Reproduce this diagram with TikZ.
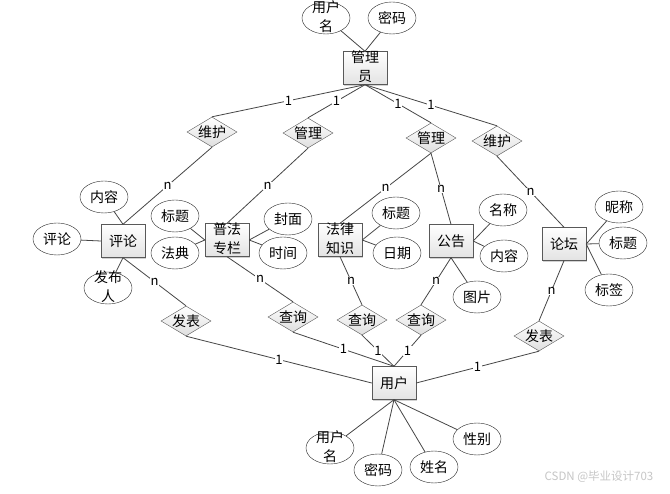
\documentclass[tikz,border=0pt]{standalone}
\usepackage{fontspec}
\setmainfont{Noto Sans CJK SC}
\usepackage{tikz}
\usetikzlibrary{shapes.geometric, shadows}
\newcommand{\twoline}[2]{\smash{\raisebox{-3.8pt}{\begin{tabular}{@{}c@{}}#1\\#2\end{tabular}}}}
\tikzstyle{entity} = [rectangle, minimum width=44pt, minimum height=33pt, inner sep=0pt, draw=gray!70!black, top color=white, bottom color=gray!22, drop shadow={shadow xshift=1.2pt, shadow yshift=-1.2pt, opacity=0.35}]
\tikzstyle{relation} = [diamond, aspect=1.67, minimum width=50pt, minimum height=30pt, inner sep=0pt, draw=gray!70!black, top color=white, bottom color=gray!25]
\tikzstyle{attr} = [ellipse, minimum width=48pt, minimum height=32pt, inner sep=0pt, draw=black!85, fill=white]
\tikzstyle{link} = [draw=gray!55!black, line width=0.8pt]
\tikzstyle{card} = [fill=white, inner sep=0.6pt, font=\fontsize{13}{13}\selectfont]

\begin{document}
\begin{tikzpicture}[x=1pt, y=-1pt, every node/.style={font=\fontsize{14}{18.5}\selectfont}]
  \useasboundingbox[fill=white] (0,0) rectangle (670,494);

  \node[entity] (gly) at (365,68) {\twoline{管理}{员}};
  \node[attr] (gname) at (326,18) {\twoline{用户}{名}};
  \node[attr] (gpwd) at (392,18) {密码};

  \node[relation] (whL) at (212,132) {维护};
  \node[relation] (glL) at (308,133) {管理};
  \node[relation] (glR) at (431,138) {管理};
  \node[relation] (whR) at (497,141) {维护};

  \node[entity] (pl) at (123,241) {评论};
  \node[entity] (pf) at (227,240) {\twoline{普法}{专栏}};
  \node[entity] (fl) at (340,240) {\twoline{法律}{知识}};
  \node[entity] (gg) at (451,241) {公告};
  \node[entity] (lt) at (564,244) {论坛};

  \node[attr] (plnr) at (104,197) {内容};
  \node[attr] (plpl) at (57,239) {评论};
  \node[attr] (plfb) at (108,288) {\twoline{发布}{人}};
  \node[attr] (pfbt) at (175,216) {标题};
  \node[attr] (pffd) at (175,253) {法典};
  \node[attr] (pffm) at (288,219) {封面};
  \node[attr] (pfsj) at (283,253) {时间};
  \node[attr] (flbt) at (396,213) {标题};
  \node[attr] (flrq) at (397,253) {日期};
  \node[attr] (ggmc) at (503,210) {名称};
  \node[attr] (ggnr) at (504,256) {内容};
  \node[attr] (ggtp) at (477,297) {图片};
  \node[attr] (ltnc) at (619,207) {昵称};
  \node[attr] (ltbt) at (623,243) {标题};
  \node[attr] (ltbq) at (609,290) {标签};

  \node[relation] (fbL) at (186,321) {发表};
  \node[relation] (cx1) at (293,317) {查询};
  \node[relation] (cx2) at (362,320) {查询};
  \node[relation] (cx3) at (421,320) {查询};
  \node[relation] (fbR) at (539,336) {发表};

  \node[entity] (yh) at (394,383) {用户};
  \node[attr] (yname) at (330,448) {\twoline{用户}{名}};
  \node[attr] (ypwd) at (378,470) {密码};
  \node[attr] (yxm) at (434,467) {姓名};
  \node[attr] (yxb) at (477,439) {性别};

  \node[text=gray!45] (mark) at (599,477) {\fontsize{11.5}{11.5}\selectfont CSDN @毕业设计703};

  \draw[link] (gname) -- (gly.north);
  \draw[link] (gpwd) -- (gly.north);
  \draw[link] (gly.south) -- node[card]{1} (whL.north);
  \draw[link] (gly.south) -- node[card]{1} (glL.north);
  \draw[link] (gly.south) -- node[card]{1} (glR.north);
  \draw[link] (gly.south) -- node[card]{1} (whR.north);

  \draw[link] (whL.south) -- node[card]{n} (pl.north);
  \draw[link] (glL.south) -- node[card]{n} (pf.north);
  \draw[link] (glR.south) -- node[card]{n} (fl.north);
  \draw[link] (glR.south) -- node[card]{n} (gg.north);
  \draw[link] (whR.south) -- node[card]{n} (lt.north);

  \draw[link] (plnr) -- (pl.north);
  \draw[link] (plpl) -- (pl.west);
  \draw[link] (plfb) -- (pl.south);
  \draw[link] (pfbt) -- (pf.west);
  \draw[link] (pffd) -- (pf.west);
  \draw[link] (pffm) -- (pf.east);
  \draw[link] (pfsj) -- (pf.east);
  \draw[link] (flbt) -- (fl.east);
  \draw[link] (flrq) -- (fl.east);
  \draw[link] (ggmc) -- (gg.east);
  \draw[link] (ggnr) -- (gg.east);
  \draw[link] (ggtp) -- (gg.south);
  \draw[link] (ltnc) -- (lt.east);
  \draw[link] (ltbt) -- (lt.east);
  \draw[link] (ltbq) -- (lt.east);

  \draw[link] (pl.south) -- node[card]{n} (fbL.north);
  \draw[link] (pf.south) -- node[card]{n} (cx1.north);
  \draw[link] (fl.south) -- node[card]{n} (cx2.north);
  \draw[link] (gg.south) -- node[card]{n} (cx3.north);
  \draw[link] (lt.south) -- node[card]{n} (fbR.north);

  \draw[link] (fbL.south) -- node[card]{1} (yh.west);
  \draw[link] (cx1.south) -- node[card]{1} (yh.north);
  \draw[link] (cx2.south) -- node[card]{1} (yh.north);
  \draw[link] (cx3.south) -- node[card]{1} (yh.north);
  \draw[link] (fbR.south) -- node[card]{1} (yh.east);

  \draw[link] (yh.south) -- (yname);
  \draw[link] (yh.south) -- (ypwd);
  \draw[link] (yh.south) -- (yxm);
  \draw[link] (yh.south) -- (yxb);
\end{tikzpicture}
\end{document}
